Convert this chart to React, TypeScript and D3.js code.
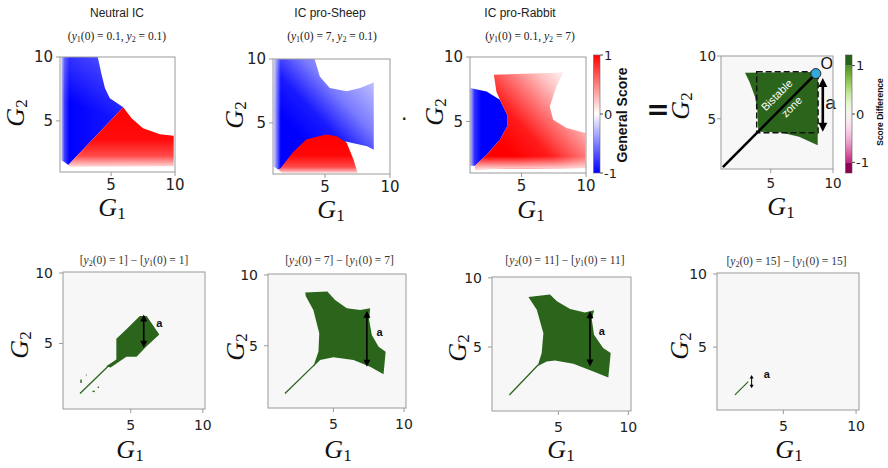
import React from "react";
import * as d3 from "d3";

type P = [number, number];

// ---------- data ----------
const AXIS_TICKS = [5, 10];
const GENERAL_TICKS = [1, 0, -1];
const DIFF_TICKS = [1, 0, -1];

const TOP_TITLES = ["Neutral IC", "IC pro-Sheep", "IC pro-Rabbit"];
const TOP_SUBS: [string, string][] = [
  ["0.1", "0.1"],
  ["7", "0.1"],
  ["0.1", "7"],
];
const BOTTOM_IC = ["1", "7", "11", "15"];

// Neutral IC regions (G1, G2)
const neutralBlue: P[] = [[1.1, 10], [3.95, 10], [4.26, 8.6], [4.52, 7.55], [4.9, 6.77], [5.95, 6.06], [1.65, 1.55], [1.31, 1.8], [1.1, 1.9]];
const neutralRed: P[] = [[5.95, 6.06], [6.6, 5.2], [7.5, 4.42], [8.82, 3.95], [9.9, 3.84], [9.9, 1.45], [1.8, 1.42], [1.65, 1.55]];

// IC pro-Sheep regions
const sheepBlue: P[] = [[1.07, 10], [4.2, 10], [4.6, 8.64], [5.37, 7.73], [6.67, 7.47], [7.7, 7.73], [8.75, 8.17], [8.75, 2.9], [8.23, 3.17], [6.6, 3.55], [5.0, 2.5], [1.4, 1.35], [1.07, 1.6]];
const sheepRed: P[] = [[1.46, 1.3], [2.5, 2.66], [3.55, 3.7], [4.6, 3.98], [5.1, 4.09], [5.9, 3.95], [6.67, 3.44], [7.19, 2.13], [7.5, 1.1], [1.7, 1.1]];

// IC pro-Rabbit regions
const rabbitBlue: P[] = [[1.0, 7.6], [2.29, 7.33], [3.32, 6.68], [3.88, 5.52], [3.88, 4.61], [3.32, 3.58], [2.29, 2.42], [1.38, 1.57], [1.0, 1.57]];
const rabbitRed: P[] = [[2.85, 8.62], [8.22, 8.8], [7.7, 7.71], [7.19, 6.16], [7.45, 5.13], [8.49, 4.49], [9.96, 4.1], [9.96, 1.39], [1.45, 1.3], [1.38, 1.57], [2.29, 2.42], [3.32, 3.58], [3.88, 4.61], [3.88, 5.52], [3.32, 6.68], [3.05, 7.3]];

// Score difference (summary) panel
const diffGreen: P[] = [[2.93, 8.67], [8.64, 8.72], [8.8, 8.7], [8.77, 2.9], [7.27, 3.57], [5.82, 3.9], [4.0, 3.97], [3.92, 5.7], [3.73, 6.76], [3.3, 7.9]];
const diagonal: P[] = [[1.15, 1.15], [8.62, 8.6]];
const bistableBox = [3.87, 8.8, 3.89, 8.75];
const originPoint: P = [8.62, 8.6];

// bottom row green regions
const ic1Green: P[] = [[3.3, 3.39], [4.0, 3.87], [4.0, 5.33], [4.7, 6.0], [5.63, 6.94], [6.1, 6.94], [6.98, 5.64], [6.1, 4.8], [5.4, 4.06], [4.7, 4.06], [3.6, 3.3]];
const ic1Tail: P[] = [[1.48, 1.45], [3.45, 3.4]];
const ic1Specks: [number, number, number, number][] = [[1.55, 2.2, 1.55, 2.45], [1.9, 2.75, 1.93, 2.78], [2.35, 1.6, 2.5, 1.6], [2.7, 1.88, 2.8, 1.9]];
const ic7Green: P[] = [[3.58, 3.51], [4.06, 3.99], [5.0, 4.18], [6.42, 3.99], [7.6, 3.51], [8.55, 2.99], [8.7, 4.57], [8.2, 4.93], [7.72, 5.76], [7.53, 6.82], [7.6, 7.65], [6.9, 7.53], [5.95, 7.65], [5.12, 8.24], [4.57, 8.83], [3.0, 8.76], [3.05, 8.5], [3.58, 7.53], [4.0, 5.88], [3.94, 4.57], [3.65, 3.75]];
const ic7Tail: P[] = [[1.57, 1.62], [3.65, 3.65]];
const ic11Green: P[] = [[3.46, 3.6], [4.17, 3.96], [4.76, 4.03], [6.07, 3.79], [7.5, 3.23], [8.57, 2.8], [8.74, 4.57], [8.2, 4.93], [7.55, 5.89], [7.39, 6.98], [7.55, 7.65], [6.9, 7.5], [5.84, 7.75], [4.9, 8.3], [4.4, 8.79], [2.86, 8.62], [3.46, 7.7], [3.93, 6.0], [3.81, 4.57], [3.57, 3.79]];
const ic11Tail: P[] = [[1.5, 1.54], [3.55, 3.7]];
const ic15Tail: P[] = [[1.67, 1.73], [2.59, 2.64]];

// "a" arrows: [G1, G2 top, G2 bottom]
const arrowDiff = [9.18, 8.25, 3.97];
const arrowIC1 = [5.9, 7.06, 4.7];
const arrowIC7 = [7.37, 7.48, 3.51];
const arrowIC11 = [7.26, 7.58, 3.6];
const arrowIC15 = [2.82, 3.1, 2.19];
// "a" label positions
const labelDiff: P = [9.8, 6.25];
const labelIC1: P = [6.98, 6.47];
const labelIC7: P = [8.26, 5.99];
const labelIC11: P = [8.1, 6.13];
const labelIC15: P = [3.86, 3.17];

// ---------- helpers ----------
const GREEN = "#2b651c";
const FRAME = "#9a9a9a";
const SANS = "'Liberation Sans', Arial, sans-serif";
const SERIF = "'Liberation Serif', 'DejaVu Serif', serif";
const TICKF = "'DejaVu Sans', sans-serif";

type Scale = d3.ScaleLinear<number, number>;

interface PanelProps {
  frame: [number, number, number, number];
  dom: [number, number, number, number];
  bg?: string;
  tickSize: number;
  yGap: number;
  xBase: number;
  xLab: P;
  yLab: P;
  children: (sx: Scale, sy: Scale) => React.ReactNode;
}

function GLabel({ x, y, sub, rotate }: { x: number; y: number; sub: string; rotate?: boolean }) {
  return (
    <text
      transform={`translate(${x},${y})${rotate ? " rotate(-90)" : ""}`}
      textAnchor="middle"
      fontFamily={SERIF}
      fontStyle="italic"
      fontSize={26}
      fill="#111"
    >
      G<tspan fontStyle="normal" fontSize={17} dy={3}>{sub}</tspan>
    </text>
  );
}

function Panel({ frame, dom, bg, tickSize, yGap, xBase, xLab, yLab, children }: PanelProps) {
  const [x0, x1, y0, y1] = frame;
  const sx = d3.scaleLinear().domain([dom[0], dom[1]]).range([x0, x1]);
  const sy = d3.scaleLinear().domain([dom[2], dom[3]]).range([y1, y0]);
  return (
    <g>
      {bg && <rect x={x0} y={y0} width={x1 - x0} height={y1 - y0} fill={bg} />}
      {children(sx, sy)}
      <rect x={x0} y={y0} width={x1 - x0} height={y1 - y0} fill="none" stroke={FRAME} strokeWidth={1} />
      {AXIS_TICKS.map((t) => (
        <g key={"x" + t}>
          <line x1={sx(t)} x2={sx(t)} y1={y1} y2={y1 + 4} stroke={FRAME} />
          <text x={sx(t)} y={y1 + xBase} textAnchor="middle" fontFamily={TICKF} fontSize={tickSize} fill="#222">{t}</text>
        </g>
      ))}
      {AXIS_TICKS.map((t) => (
        <g key={"y" + t}>
          <line x1={x0 - 4} x2={x0} y1={sy(t)} y2={sy(t)} stroke={FRAME} />
          <text x={x0 - yGap} y={sy(t)} dy="0.36em" textAnchor="end" fontFamily={TICKF} fontSize={tickSize} fill="#222">{t}</text>
        </g>
      ))}
      <GLabel x={xLab[0]} y={xLab[1]} sub="1" />
      <GLabel x={yLab[0]} y={yLab[1]} sub="2" rotate />
    </g>
  );
}

const poly = (pts: P[], sx: Scale, sy: Scale) =>
  d3.line<P>().x((d) => sx(d[0])).y((d) => sy(d[1])).curve(d3.curveLinearClosed)(pts) || "";
const pline = (pts: P[], sx: Scale, sy: Scale) =>
  d3.line<P>().x((d) => sx(d[0])).y((d) => sy(d[1]))(pts) || "";

function Arrow({ a, sx, sy, w, head, hw }: { a: number[]; sx: Scale; sy: Scale; w: number; head: number; hw: number }) {
  const x = sx(a[0]);
  const yt = sy(a[1]);
  const yb = sy(a[2]);
  return (
    <g fill="#000">
      <line x1={x} x2={x} y1={yt + head * 0.8} y2={yb - head * 0.8} stroke="#000" strokeWidth={w} />
      <polygon points={`${x},${yt} ${x - hw},${yt + head} ${x + hw},${yt + head}`} />
      <polygon points={`${x},${yb} ${x - hw},${yb - head} ${x + hw},${yb - head}`} />
    </g>
  );
}

function MathSub({ x, y, a, b }: { x: number; y: number; a: string; b: string }) {
  return (
    <text x={x} y={y} textAnchor="middle" fontFamily={SERIF} fontSize={11.5} fill="#222">
      (<tspan fontStyle="italic">y</tspan><tspan fontSize={8} dy={2}>1</tspan><tspan dy={-2}>(0) = {a}, </tspan>
      <tspan fontStyle="italic">y</tspan><tspan fontSize={8} dy={2}>2</tspan><tspan dy={-2}> = {b})</tspan>
    </text>
  );
}

function BottomTitle({ x, y, v }: { x: number; y: number; v: string }) {
  return (
    <text x={x} y={y} textAnchor="middle" fontFamily={SERIF} fontSize={11.5} fill="#333">
      [<tspan fontStyle="italic">y</tspan><tspan fontSize={8} dy={2}>2</tspan><tspan dy={-2}>(0) = {v}] − [</tspan>
      <tspan fontStyle="italic">y</tspan><tspan fontSize={8} dy={2}>1</tspan><tspan dy={-2}>(0) = {v}]</tspan>
    </text>
  );
}

function Stops({ s }: { s: [number, string, number?][] }) {
  return (
    <>
      {s.map(([o, c, op], i) => (
        <stop key={i} offset={o} stopColor={c} stopOpacity={op === undefined ? 1 : op} />
      ))}
    </>
  );
}

export default function App() {
  const cb3 = d3.scaleLinear().domain([-1, 1]).range([173, 55]);
  const cb4 = d3.scaleLinear().domain([-1.22, 1.22]).range([173, 55]);
  const piyg = d3.range(0, 11).map((i) => i / 10);

  return (
    <svg width={888} height={468} style={{ position: "absolute", left: 0, top: 0, background: "#fff" }}>
      {/* top titles */}
      {TOP_TITLES.map((t, i) => (
        <text key={t} x={[117, 330, 520][i]} y={16.5} textAnchor="middle" fontFamily={SANS} fontSize={12} fill="#222">{t}</text>
      ))}
      {TOP_SUBS.map((s, i) => (
        <MathSub key={i} x={[117, 332, 530][i]} y={39.5} a={s[0]} b={s[1]} />
      ))}

      {/* Panel 1: Neutral IC */}
      <Panel frame={[60, 175, 57, 172]} dom={[1, 10, 1, 10]} tickSize={15} yGap={7} xBase={18} xLab={[112, 216]} yLab={[24, 113]}>
        {(sx, sy) => (
          <g>
            <defs>
              <linearGradient id="b1" gradientUnits="userSpaceOnUse" x1={sx(1.1)} x2={sx(6)} y1={0} y2={0}>
                <Stops s={[[0, "#c8c8ff"], [0.05, "#4040ff"], [0.13, "#0000ff"], [1, "#1a1aff"]]} />
              </linearGradient>
              <linearGradient id="b1t" gradientUnits="userSpaceOnUse" x1={sx(3)} y1={sy(6)} x2={sx(4.5)} y2={sy(10)}>
                <Stops s={[[0, "#ffffff", 0], [1, "#ffffff", 0.25]]} />
              </linearGradient>
              <linearGradient id="r1" gradientUnits="userSpaceOnUse" x1={0} x2={0} y1={sy(6.1)} y2={sy(1.42)}>
                <Stops s={[[0, "#ff0000"], [0.55, "#ff0c0c"], [0.82, "#ff4a4a"], [1, "#ffd8d8"]]} />
              </linearGradient>
            </defs>
            <path d={poly(neutralBlue, sx, sy)} fill="url(#b1)" />
            <path d={poly(neutralBlue, sx, sy)} fill="url(#b1t)" />
            <path d={poly(neutralRed, sx, sy)} fill="url(#r1)" />
          </g>
        )}
      </Panel>

      {/* Panel 2: pro-Sheep */}
      <Panel frame={[273, 390, 59, 174]} dom={[1, 10, 1, 10]} tickSize={15} yGap={7} xBase={18} xLab={[331, 218]} yLab={[243, 115]}>
        {(sx, sy) => (
          <g>
            <defs>
              <linearGradient id="b2" gradientUnits="userSpaceOnUse" x1={sx(3.6)} y1={sy(3.4)} x2={sx(8.6)} y2={sy(8.2)}>
                <Stops s={[[0, "#0000ff"], [0.3, "#1a1aff"], [0.62, "#7a7aff"], [1, "#bcbcff"]]} />
              </linearGradient>
              <linearGradient id="f2" gradientUnits="userSpaceOnUse" x1={sx(1.07)} x2={sx(1.6)} y1={0} y2={0}>
                <Stops s={[[0, "#ffffff", 0.8], [1, "#ffffff", 0]]} />
              </linearGradient>
              <linearGradient id="r2" gradientUnits="userSpaceOnUse" x1={0} x2={0} y1={sy(4.1)} y2={sy(1.1)}>
                <Stops s={[[0, "#ff0000"], [0.55, "#ff0808"], [0.85, "#ff4a4a"], [1, "#ffcccc"]]} />
              </linearGradient>
            </defs>
            <path d={poly(sheepBlue, sx, sy)} fill="url(#b2)" />
            <path d={poly(sheepBlue, sx, sy)} fill="url(#f2)" />
            <path d={poly(sheepRed, sx, sy)} fill="url(#r2)" />
          </g>
        )}
      </Panel>
      <text x={402} y={120} fontFamily={SANS} fontSize={16} fontWeight="bold" fill="#222">.</text>

      {/* Panel 3: pro-Rabbit */}
      <Panel frame={[470, 586, 57, 173]} dom={[1, 10, 1, 10]} tickSize={15} yGap={7} xBase={18} xLab={[531, 218]} yLab={[443, 112]}>
        {(sx, sy) => (
          <g>
            <defs>
              <linearGradient id="b3" gradientUnits="userSpaceOnUse" x1={sx(1.0)} x2={sx(3.9)} y1={0} y2={0}>
                <Stops s={[[0, "#c8c8ff"], [0.12, "#3030ff"], [0.3, "#0000ff"], [1, "#0000ff"]]} />
              </linearGradient>
              <linearGradient id="r3" gradientUnits="userSpaceOnUse" x1={sx(3.6)} y1={sy(3.2)} x2={sx(8.6)} y2={sy(7.8)}>
                <Stops s={[[0, "#ff0000"], [0.3, "#ff1c1c"], [0.58, "#ff7070"], [0.82, "#ffbaba"], [1, "#ffe6e6"]]} />
              </linearGradient>
              <linearGradient id="f3" gradientUnits="userSpaceOnUse" x1={0} x2={0} y1={sy(2.3)} y2={sy(1.3)}>
                <Stops s={[[0, "#ffffff", 0], [1, "#ffffff", 0.85]]} />
              </linearGradient>
            </defs>
            <path d={poly(rabbitBlue, sx, sy)} fill="url(#b3)" />
            <path d={poly(rabbitRed, sx, sy)} fill="url(#r3)" />
            <path d={poly(rabbitRed, sx, sy)} fill="url(#f3)" />
          </g>
        )}
      </Panel>

      {/* General score colorbar */}
      <defs>
        <linearGradient id="bwr" x1={0} x2={0} y1={1} y2={0}>
          <Stops s={[[0, "#0000ff"], [0.5, "#ffffff"], [1, "#ff0000"]]} />
        </linearGradient>
        <linearGradient id="piyg" gradientUnits="userSpaceOnUse" x1={0} x2={0} y1={cb4(-1)} y2={cb4(1)}>
          {piyg.map((t) => (
            <stop key={t} offset={t} stopColor={d3.interpolatePiYG(0.1 + t * 0.8)} />
          ))}
        </linearGradient>
      </defs>
      <rect x={593.5} y={cb3(1)} width={6.5} height={cb3(-1) - cb3(1)} fill="url(#bwr)" stroke="#666" strokeWidth={0.6} />
      {GENERAL_TICKS.map((t) => (
        <g key={t}>
          <line x1={600} x2={603} y1={cb3(t)} y2={cb3(t)} stroke="#444" />
          <text x={604} y={cb3(t)} dy="0.36em" fontFamily={TICKF} fontSize={13} fill="#222">{t}</text>
        </g>
      ))}
      <text transform="translate(627,115) rotate(-90)" textAnchor="middle" fontFamily={SANS} fontWeight="bold" fontSize={14} fill="#111">General Score</text>

      {/* equals */}
      <text x={658} y={119} textAnchor="middle" fontFamily={TICKF} fontWeight="bold" fontSize={28} fill="#111">=</text>

      {/* Panel 4: score difference */}
      <Panel frame={[721, 833, 56, 169]} dom={[1, 10, 1, 10]} bg="#f7f7f7" tickSize={13.5} yGap={5} xBase={19} xLab={[781, 215]} yLab={[689, 106]}>
        {(sx, sy) => (
          <g>
            <path d={poly(diffGreen, sx, sy)} fill={GREEN} />
            <rect
              x={sx(bistableBox[0])}
              y={sy(bistableBox[3])}
              width={sx(bistableBox[1]) - sx(bistableBox[0])}
              height={sy(bistableBox[2]) - sy(bistableBox[3])}
              fill="none"
              stroke="#111"
              strokeWidth={1.5}
              strokeDasharray="6 3"
            />
            <path d={pline(diagonal, sx, sy)} stroke="#000" strokeWidth={2.6} fill="none" />
            <text transform={`translate(${sx(5.48)},${sy(6.89)}) rotate(-45)`} textAnchor="middle" dy="0.35em" fontFamily={SANS} fontSize={11} fill="#fff">Bistable</text>
            <text transform={`translate(${sx(6.68)},${sy(5.96)}) rotate(-45)`} textAnchor="middle" dy="0.35em" fontFamily={SANS} fontSize={11} fill="#fff">zone</text>
            <circle cx={sx(originPoint[0])} cy={sy(originPoint[1])} r={5} fill="#35a9df" stroke="#222" strokeWidth={1} />
            <text x={sx(9.5)} y={sy(9.4)} dy="0.36em" textAnchor="middle" fontFamily={SANS} fontSize={16} fill="#111">O</text>
            <Arrow a={arrowDiff} sx={sx} sy={sy} w={2.6} head={9} hw={4.5} />
            <text x={sx(labelDiff[0])} y={sy(labelDiff[1])} dy="0.3em" textAnchor="middle" fontFamily={SANS} fontSize={19} fill="#111">a</text>
          </g>
        )}
      </Panel>

      {/* score difference colorbar */}
      <rect x={845.5} y={cb4(1)} width={6.5} height={cb4(-1) - cb4(1)} fill="url(#piyg)" />
      <rect x={845.5} y={cb4(1.22)} width={6.5} height={cb4(1) - cb4(1.22)} fill={d3.interpolatePiYG(1)} />
      <rect x={845.5} y={cb4(-1)} width={6.5} height={cb4(-1.22) - cb4(-1)} fill={d3.interpolatePiYG(0)} />
      <rect x={845.5} y={cb4(1.22)} width={6.5} height={cb4(-1.22) - cb4(1.22)} fill="none" stroke="#555" strokeWidth={0.6} />
      {DIFF_TICKS.map((t) => (
        <g key={t}>
          <line x1={852} x2={855} y1={cb4(t)} y2={cb4(t)} stroke="#444" />
          <text x={856} y={cb4(t)} dy="0.36em" fontFamily={TICKF} fontSize={13} fill="#222">{t}</text>
        </g>
      ))}
      <text transform="translate(883,112) rotate(-90)" textAnchor="middle" fontFamily={SANS} fontWeight="bold" fontSize={8.5} fill="#111">Score Difference</text>

      {/* bottom titles */}
      {BOTTOM_IC.map((v, i) => (
        <BottomTitle key={v} x={[134, 339.5, 565, 786.5][i]} y={[264, 264, 264, 265][i]} v={v} />
      ))}

      {/* Panel 5 */}
      <Panel frame={[63, 205, 272, 409]} dom={[0.3, 10.15, 0.35, 10.07]} bg="#f7f7f7" tickSize={14} yGap={10} xBase={21} xLab={[130, 458]} yLab={[28, 345]}>
        {(sx, sy) => (
          <g>
            <path d={pline(ic1Tail, sx, sy)} stroke={GREEN} strokeWidth={1.3} fill="none" />
            <path d={poly(ic1Green, sx, sy)} fill={GREEN} />
            {ic1Specks.map((s, i) => (
              <line key={i} x1={sx(s[0])} y1={sy(s[1])} x2={sx(s[2])} y2={sy(s[3])} stroke={GREEN} strokeWidth={1.4} />
            ))}
            <Arrow a={arrowIC1} sx={sx} sy={sy} w={1.6} head={7} hw={3.5} />
            <text x={sx(labelIC1[0])} y={sy(labelIC1[1])} dy="0.35em" textAnchor="middle" fontFamily={SANS} fontWeight="bold" fontSize={11} fill="#111">a</text>
          </g>
        )}
      </Panel>

      {/* Panel 6 */}
      <Panel frame={[268, 406, 274, 408]} dom={[0.37, 10.14, 0.6, 10.07]} bg="#f7f7f7" tickSize={14} yGap={10} xBase={21} xLab={[338, 458]} yLab={[244, 347]}>
        {(sx, sy) => (
          <g>
            <path d={pline(ic7Tail, sx, sy)} stroke={GREEN} strokeWidth={1.3} fill="none" />
            <path d={poly(ic7Green, sx, sy)} fill={GREEN} />
            <Arrow a={arrowIC7} sx={sx} sy={sy} w={1.6} head={7} hw={3.5} />
            <text x={sx(labelIC7[0])} y={sy(labelIC7[1])} dy="0.35em" textAnchor="middle" fontFamily={SANS} fontWeight="bold" fontSize={11} fill="#111">a</text>
          </g>
        )}
      </Panel>

      {/* Panel 7 */}
      <Panel frame={[492, 631, 277, 411]} dom={[0.26, 10.19, 0.38, 10.06]} bg="#f7f7f7" tickSize={14} yGap={10} xBase={21} xLab={[561, 458]} yLab={[466, 348]}>
        {(sx, sy) => (
          <g>
            <path d={pline(ic11Tail, sx, sy)} stroke={GREEN} strokeWidth={1.3} fill="none" />
            <path d={poly(ic11Green, sx, sy)} fill={GREEN} />
            <Arrow a={arrowIC11} sx={sx} sy={sy} w={1.6} head={7} hw={3.5} />
            <text x={sx(labelIC11[0])} y={sy(labelIC11[1])} dy="0.35em" textAnchor="middle" fontFamily={SANS} fontWeight="bold" fontSize={11} fill="#111">a</text>
          </g>
        )}
      </Panel>

      {/* Panel 8 */}
      <Panel frame={[717, 859, 273, 410]} dom={[0.44, 10.2, 0.7, 10.07]} bg="#f7f7f7" tickSize={14} yGap={10} xBase={21} xLab={[789, 458]} yLab={[688, 346]}>
        {(sx, sy) => (
          <g>
            <path d={pline(ic15Tail, sx, sy)} stroke={GREEN} strokeWidth={1.2} fill="none" />
            <Arrow a={arrowIC15} sx={sx} sy={sy} w={1} head={3.5} hw={2} />
            <text x={sx(labelIC15[0])} y={sy(labelIC15[1])} dy="0.35em" textAnchor="middle" fontFamily={SANS} fontWeight="bold" fontSize={11} fill="#111">a</text>
          </g>
        )}
      </Panel>
    </svg>
  );
}
